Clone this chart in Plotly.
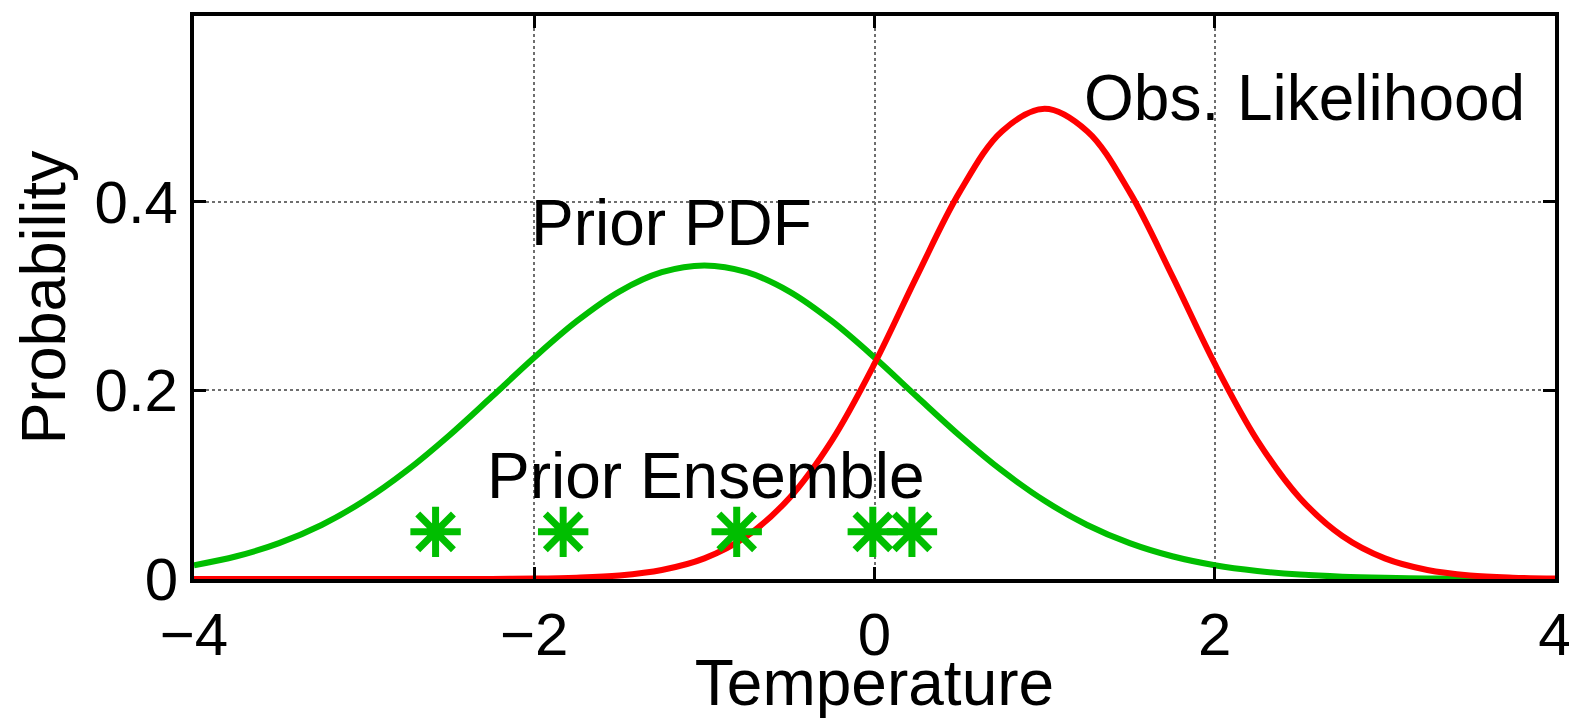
import plotly.graph_objects as go

# Temperature grid (x values) and curve values
temperature = [-4.0, -3.75, -3.5, -3.25, -3.0, -2.75, -2.5, -2.25, -2.0, -1.75, -1.5,
               -1.25, -1.0, -0.75, -0.5, -0.25, 0.0, 0.25, 0.5, 0.75, 1.0, 1.25, 1.5,
               1.75, 2.0, 2.25, 2.5, 2.75, 3.0, 3.25, 3.5, 3.75, 4.0]

prior_pdf = [0.0146, 0.0241, 0.0380, 0.0573, 0.0829, 0.1148, 0.1522, 0.1932, 0.2349,
             0.2734, 0.3048, 0.3253, 0.3325, 0.3253, 0.3048, 0.2734, 0.2349, 0.1932,
             0.1522, 0.1148, 0.0829, 0.0573, 0.0380, 0.0241, 0.0146, 0.0085, 0.0047,
             0.0025, 0.0013, 0.0006, 0.0003, 0.0001, 0.0001]

obs_likelihood = [0.0, 0.0, 0.0, 0.0, 0.0, 0.0, 0.0, 0.0001, 0.0004, 0.0014, 0.0038,
                  0.0096, 0.0219, 0.0456, 0.0860, 0.1471, 0.2283, 0.3214, 0.4102,
                  0.4749, 0.4987, 0.4749, 0.4102, 0.3214, 0.2283, 0.1471, 0.0860,
                  0.0456, 0.0219, 0.0096, 0.0038, 0.0014, 0.0004]

ensemble_x = [-2.58, -1.83, -0.81, -0.01, 0.22]
ensemble_y = [0.05, 0.05, 0.05, 0.05, 0.05]

x_ticks = [-4, -2, 0, 2, 4]
y_ticks = [0, 0.2, 0.4]
y_tick_labels = ["0", "0.2", "0.4"]

GREEN = "rgb(0,190,0)"
RED = "rgb(255,0,0)"
FONT = "Liberation Sans, Arial, Helvetica, sans-serif"

fig = go.Figure()
fig.add_trace(go.Scatter(x=temperature, y=prior_pdf, mode="lines",
                         line=dict(color=GREEN, width=6, shape="spline"), showlegend=False))
fig.add_trace(go.Scatter(x=temperature, y=obs_likelihood, mode="lines",
                         line=dict(color=RED, width=6, shape="spline"), showlegend=False))
fig.add_trace(go.Scatter(x=ensemble_x, y=ensemble_y, mode="markers",
                         marker=dict(symbol="asterisk-open", size=42, color=GREEN,
                                     line=dict(color=GREEN, width=7)),
                         showlegend=False))

fig.add_annotation(x=1.22, y=0.51, text="Obs. Likelihood", showarrow=False, xanchor="left", yanchor="middle",
                   font=dict(size=64, color="black", family=FONT))
fig.add_annotation(x=-2.03, y=0.378, text="Prior PDF", showarrow=False, xanchor="left", yanchor="middle",
                   font=dict(size=64, color="black", family=FONT))
fig.add_annotation(x=-2.29, y=0.109, text="Prior Ensemble", showarrow=False, xanchor="left", yanchor="middle",
                   font=dict(size=64, color="black", family=FONT))

fig.update_layout(
    width=1569, height=711,
    margin=dict(l=186, r=22, t=8, b=140),
    paper_bgcolor="white", plot_bgcolor="white",
    font=dict(family=FONT, size=60, color="black"),
)
fig.update_xaxes(range=[-4, 4], tickvals=x_ticks, ticks="inside", ticklen=12, tickwidth=3, tickcolor="black",
                 showline=True, linecolor="black", linewidth=4, mirror="ticks",
                 showgrid=True, gridcolor="rgb(110,110,110)", griddash="dot", gridwidth=2,
                 zeroline=False, automargin=False,
                 title=dict(text="Temperature", standoff=3, font=dict(size=64)),
                 tickfont=dict(size=60))
fig.update_yaxes(range=[0, 0.597], tickvals=y_ticks, ticktext=y_tick_labels, ticks="inside", ticklen=12,
                 tickwidth=3, tickcolor="black",
                 showline=True, linecolor="black", linewidth=4, mirror="ticks",
                 showgrid=True, gridcolor="rgb(110,110,110)", griddash="dot", gridwidth=2,
                 zeroline=False, automargin=False,
                 title=dict(text="Probability", standoff=12, font=dict(size=63)),
                 tickfont=dict(size=60))

fig.write_html("out.html")
